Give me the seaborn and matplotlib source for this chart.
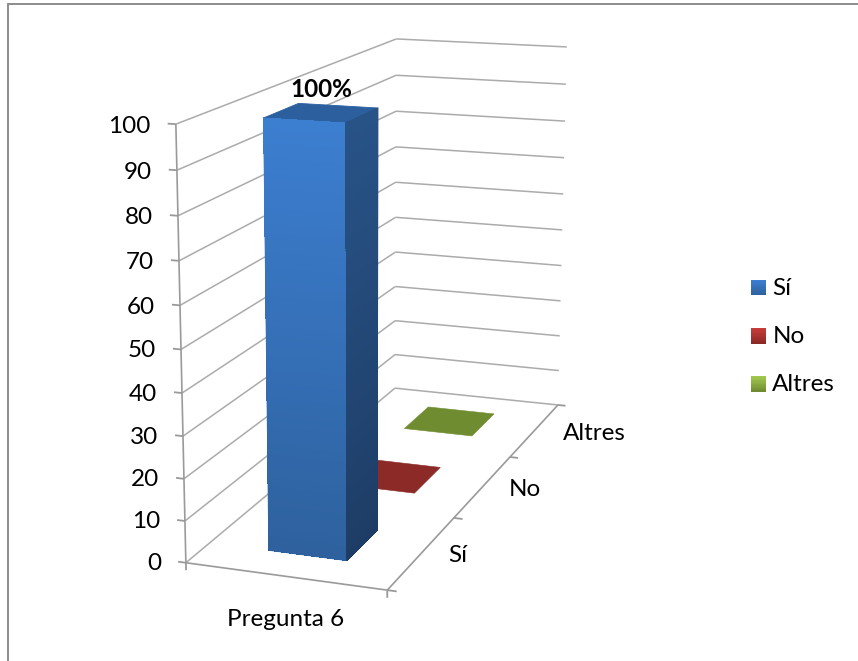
import numpy as np
import matplotlib
matplotlib.use("Agg")
import matplotlib.pyplot as plt
from matplotlib.lines import Line2D
from matplotlib.patches import Patch, Rectangle
from matplotlib.legend_handler import HandlerBase
from mpl_toolkits.mplot3d.art3d import Line3DCollection
from mpl_toolkits.mplot3d import proj3d
import seaborn as sns

# ---- data ----
categories = ["Sí", "No", "Altres"]
values = [100, 0, 0]
value_labels = ["100%", None, None]
question = ["Pregunta 6"]
z_ticks = [0, 10, 20, 30, 40, 50, 60, 70, 80, 90, 100]

# ---- styles ----
FRONT = {"Sí": ("#3C7ED0", "#2E619E"), "No": ("#C83C3A", "#8B2A26"), "Altres": ("#A2C94F", "#6F8C30")}
SIDE = ("#285387", "#1E3D66")
TOP_FACE = {"Sí": "#2C5F9E", "No": "#8B2A26", "Altres": "#6F8C30"}
GRID = "#ABABAB"
AXIS = "#9A9A9A"
TEXT = "#000000"
FS = 17.5

sns.set_theme(style="white")
plt.rcParams["font.family"] = ["Lato", "DejaVu Sans"]

W, H = 858, 661
fig = plt.figure(figsize=(W / 100, H / 100), dpi=100, facecolor="white")
ax = fig.add_axes([0, 0, 1, 1], projection="3d", computed_zorder=False)
ax.set_axis_off()
ax.apply_aspect()

# camera calibration: where the corners of the plot box fall in the picture
x_max, y_max, z_max = 1.0, float(len(categories)), float(max(z_ticks))
CUBE = np.array([(0, 0, 0), (1, 0, 0), (1, 1, 0), (0, 1, 0), (0, 0, 1), (0, 1, 1), (1, 1, 1)], float)
PIX = np.array([(186, 563), (387, 590), (558, 405), (395, 388), (176, 124), (396, 39), (567, 47)], float)


def fitted_proj():
    xy = ax.transData.inverted().transform(np.c_[PIX[:, 0], H - PIX[:, 1]])
    rows = []
    for (X, Y, Z), (u, v) in zip(CUBE, xy):
        rows.append([X, Y, Z, 1, 0, 0, 0, 0, -u * X, -u * Y, -u * Z, -u])
        rows.append([0, 0, 0, 0, X, Y, Z, 1, -v * X, -v * Y, -v * Z, -v])
    p = np.linalg.svd(np.array(rows))[2][-1].reshape(3, 4)
    p = p @ np.diag([1 / x_max, 1 / y_max, 1 / z_max, 1])
    centre = np.linalg.svd(p)[2][-1]
    return np.vstack([p[0], p[1], centre, p[2]])


ax.get_proj = fitted_proj


def label(X, Y, Z, s, **kw):
    """Place a text at a 3D data position, as an ordinary 2D text of the axes."""
    u, v, _ = proj3d.proj_transform(X, Y, Z, fitted_proj())
    ax.text2D(u, v, s, transform=ax.transData, va="center", fontsize=FS, zorder=6,
              color=kw.pop("color", TEXT), **kw)


grid_segs, axis_segs, tick_segs = [], [], []

# walls and floor
for v in z_ticks:
    grid_segs.append([(0, 0, v), (0, y_max, v)])
    grid_segs.append([(0, y_max, v), (x_max, y_max, v)])
    tick_segs.append([(-0.04, 0, v), (0, 0, v)])
    label(-0.125, 0, v - 0.9, str(v), ha="right")
axis_segs.append([(0, 0, 0), (0, 0, z_max)])
axis_segs.append([(0, 0, 0), (x_max, 0, 0)])
axis_segs.append([(x_max, 0, 0), (x_max, y_max, 0)])
tick_segs.append([(0, 0, -1.8), (0, 0, 0)])
tick_segs.append([(x_max, 0, -1.8), (x_max, 0, 0)])
for k in range(len(categories) + 1):
    tick_segs.append([(x_max, k, 0), (x_max + 0.045, k, 0)])

for segs, col, lw in [(grid_segs, GRID, 1.1), (axis_segs, AXIS, 1.2), (tick_segs, AXIS, 1.3)]:
    ax.add_collection3d(Line3DCollection(segs, colors=col, linewidths=lw, zorder=1))

# bars
NONE = (0, 0, 0, 0)
BAR_X0, BAR_W = 0.305, 0.395
BAR_Y0, BAR_D = 0.28, 0.43
LABEL_X = [x_max + 0.13, x_max + 0.14, x_max + 0.16]
to_rgba = matplotlib.colors.to_rgba
for i, (cat, val) in enumerate(zip(categories, values)):
    x, y = BAR_X0, i + BAR_Y0
    if val > 0:
        n = 90
        edges = np.linspace(0, val, n + 1)
        front = sns.blend_palette(list(FRONT[cat]), n)[::-1]
        side = sns.blend_palette(list(SIDE), n)[::-1]
        # solid body underneath so the gradient slices leave no seams
        base = [NONE, to_rgba(TOP_FACE[cat]), (*front[n // 2], 1), NONE, NONE, (*side[n // 2], 1)]
        ax.bar3d(x, y, 0, BAR_W, BAR_D, val, color=base, edgecolor=base, linewidth=0.6,
                 shade=False, zorder=3)
        faces = []
        for j in range(n):
            faces += [NONE, NONE, (*front[j], 1), NONE, NONE, (*side[j], 1)]
        ax.bar3d(np.full(n, x), np.full(n, y), edges[:-1], BAR_W, BAR_D, np.diff(edges),
                 color=faces, edgecolor="none", linewidth=0, antialiased=False,
                 shade=False, zorder=3.1)
    else:
        faces = [NONE, to_rgba(TOP_FACE[cat]), NONE, NONE, NONE, NONE]
        ax.bar3d(x, y, 0, BAR_W, BAR_D, 0, color=faces, edgecolor=faces, linewidth=0.4,
                 shade=False, zorder=2)
    if value_labels[i]:
        label(x + BAR_W / 2, y + BAR_D / 2, val + 5.2, value_labels[i],
              ha="center", fontweight="bold")
    label(LABEL_X[i], i + 0.5, 0, cat, ha="left")

label(x_max / 2, 0, -10.4, question[0], ha="center")


# legend with gradient swatches
class GradientHandler(HandlerBase):
    def create_artists(self, legend, orig, x0, y0, width, height, fontsize, trans):
        top, bottom = orig.get_label_colors
        n = 12
        cols = sns.blend_palette([top, bottom], n)
        return [Rectangle((x0, y0 + height * (n - 1 - j) / n), width, height / n * 1.1,
                          facecolor=cols[j], edgecolor="none", transform=trans) for j in range(n)]


handles = []
for cat in categories:
    h = Patch(label=cat)
    h.get_label_colors = FRONT[cat]
    handles.append(h)
fig.legend(handles=handles, labels=categories, loc="center left",
           bbox_to_anchor=(751 / W, 1 - 336.5 / H), frameon=False, fontsize=FS,
           handler_map={Patch: GradientHandler()},
           handlelength=0.62, handleheight=0.62, handletextpad=0.26,
           labelspacing=1.12, borderpad=0, borderaxespad=0, labelcolor=TEXT)

# outer frame of the chart area
fig.add_artist(Line2D([8 / W, 8 / W], [0, 1 - 3.5 / H], color="#8C8C8C", lw=1.4, transform=fig.transFigure))
fig.add_artist(Line2D([8 / W, 1], [1 - 3.5 / H, 1 - 3.5 / H], color="#8C8C8C", lw=1.4, transform=fig.transFigure))

fig.savefig("out.png", dpi=100, facecolor="white")
